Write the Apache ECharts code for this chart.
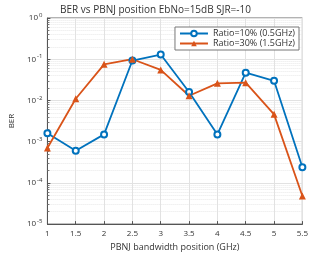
<!DOCTYPE html>
<html>
<head>
<meta charset="utf-8">
<script src="https://cdn.jsdelivr.net/npm/echarts@6/dist/echarts.min.js"></script>
<style>
  html, body { margin: 0; padding: 0; background: #fff; }
  #chart { width: 311px; height: 257px; }
</style>
</head>
<body>
<div id="chart"></div>
<script>
// bandwidth position (GHz)
const positions = [1, 1.5, 2, 2.5, 3, 3.5, 4, 4.5, 5, 5.5]
const ber10 = [1.6e-3, 6e-4, 1.5e-3, 0.093, 0.13, 0.016, 1.5e-3, 0.047, 0.03, 2.4e-4]
const ber30 = [7e-4, 0.011, 0.075, 0.1, 0.055, 0.013, 0.026, 0.027, 0.0046, 4.8e-5]
const seriesNames = ['Ratio=10% (0.5GHz)', 'Ratio=30% (1.5GHz)']

const FONT = 'Open Sans'
const chart = echarts.init(document.getElementById('chart'))

const pairs = arr => positions.map((x, i) => [x, arr[i]])

chart.setOption({
  animation: false,
  color: ['#0072BD', '#D95319'],
  title: {
    text: 'BER vs PBNJ position EbNo=15dB SJR=-10',
    left: 'center',
    top: 0,
    textStyle: { fontFamily: FONT, fontSize: 10, fontWeight: 'normal', color: '#333' }
  },
  legend: {
    right: 12,
    top: 27,
    orient: 'vertical',
    itemWidth: 28,
    itemHeight: 7,
    itemGap: 1,
    padding: [2, 4, 2, 4],
    backgroundColor: '#fff',
    borderColor: '#777',
    borderWidth: 1,
    textStyle: { fontFamily: FONT, fontSize: 9, color: '#333' },
    data: seriesNames
  },
  grid: { left: 31, right: 7, top: 18, bottom: 25, show: true, borderColor: '#666', borderWidth: 1 },
  xAxis: {
    type: 'value',
    min: 1,
    max: 5.5,
    interval: 0.5,
    name: 'PBNJ bandwidth position (GHz)',
    nameLocation: 'middle',
    nameGap: 17,
    nameTextStyle: { fontFamily: FONT, fontSize: 9, color: '#333' },
    axisLine: { lineStyle: { color: '#555' } },
    axisTick: { inside: true, length: 3, lineStyle: { color: '#555' } },
    axisLabel: { fontFamily: FONT, fontSize: 8, color: '#333', margin: 6 },
    splitLine: { show: true, lineStyle: { color: '#e2e2e2' } }
  },
  yAxis: {
    type: 'log',
    logBase: 10,
    min: 1e-5,
    max: 1,
    name: 'BER',
    nameLocation: 'middle',
    nameGap: 23,
    nameTextStyle: { fontFamily: FONT, fontSize: 8, color: '#333' },
    axisLine: { show: true, lineStyle: { color: '#555' } },
    axisTick: { inside: true, length: 3, lineStyle: { color: '#555' } },
    minorTick: { show: true, splitNumber: 9, length: 2, lineStyle: { color: '#777' } },
    minorSplitLine: { show: true, lineStyle: { color: '#e8e8e8', type: 'dotted' } },
    axisLabel: {
      fontFamily: FONT, fontSize: 8, color: '#333', margin: 5,
      formatter: v => '10{sup|' + Math.round(Math.log10(v)) + '}',
      rich: { sup: { fontFamily: FONT, fontSize: 6, verticalAlign: 'top', padding: [0, 0, 5, 1] } }
    },
    splitLine: { show: true, lineStyle: { color: '#e2e2e2' } }
  },
  series: [
    {
      name: seriesNames[0],
      type: 'line',
      data: pairs(ber10),
      symbol: 'emptyCircle',
      symbolSize: 6,
      lineStyle: { width: 1.8 },
      itemStyle: { borderWidth: 1.5 }
    },
    {
      name: seriesNames[1],
      type: 'line',
      data: pairs(ber30),
      symbol: 'triangle',
      symbolSize: 7,
      lineStyle: { width: 1.8 }
    }
  ]
})
</script>
</body>
</html>
